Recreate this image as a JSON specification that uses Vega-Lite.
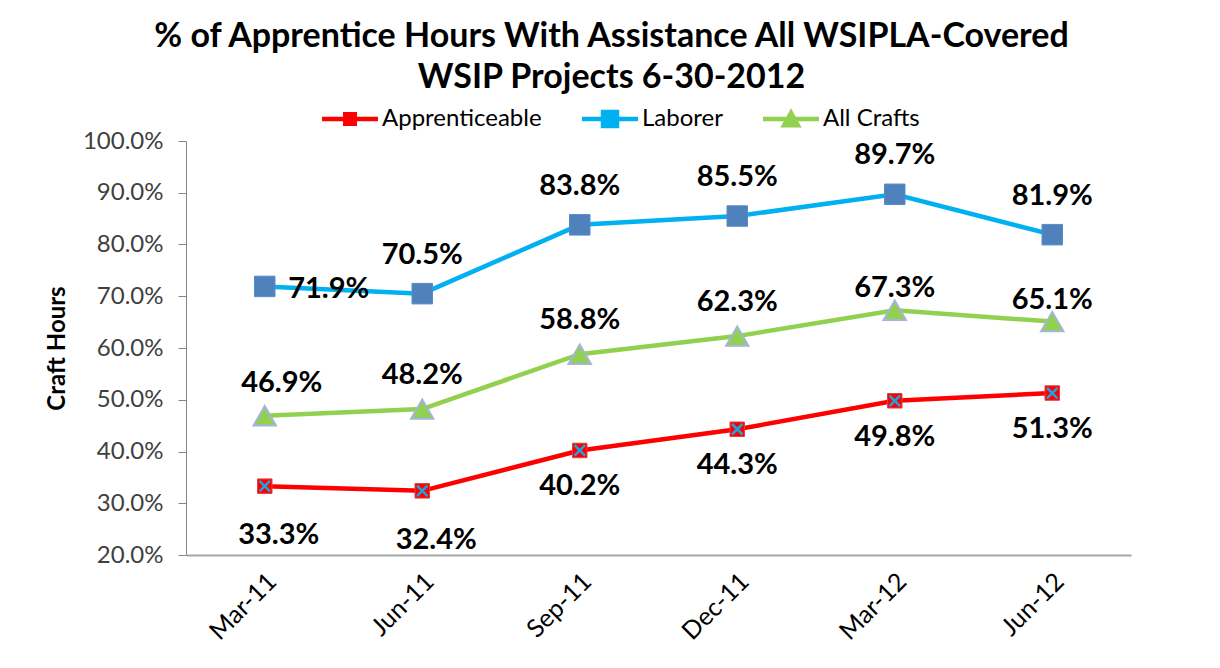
{
  "$schema": "https://vega.github.io/schema/vega-lite/v6.json",
  "width": 945,
  "height": 414,
  "autosize": {"type": "none"},
  "padding": {"left": 186, "top": 141, "right": 89, "bottom": 113},
  "background": "white",
  "view": {"stroke": null},
  "title": {
    "text": ["% of Apprentice Hours With Assistance All WSIPLA-Covered", "WSIP Projects 6-30-2012"],
    "font": "Lato",
    "fontSize": 34,
    "fontWeight": "bold",
    "color": "#000000",
    "anchor": "middle",
    "frame": "group",
    "dx": -47,
    "lineHeight": 41,
    "offset": -4
  },
  "data": {
    "values": [
      {"q": "Mar-11", "series": "Apprenticeable", "v": 0.333},
      {"q": "Jun-11", "series": "Apprenticeable", "v": 0.324},
      {"q": "Sep-11", "series": "Apprenticeable", "v": 0.402},
      {"q": "Dec-11", "series": "Apprenticeable", "v": 0.443},
      {"q": "Mar-12", "series": "Apprenticeable", "v": 0.498},
      {"q": "Jun-12", "series": "Apprenticeable", "v": 0.513},
      {"q": "Mar-11", "series": "Laborer", "v": 0.719},
      {"q": "Jun-11", "series": "Laborer", "v": 0.705},
      {"q": "Sep-11", "series": "Laborer", "v": 0.838},
      {"q": "Dec-11", "series": "Laborer", "v": 0.855},
      {"q": "Mar-12", "series": "Laborer", "v": 0.897},
      {"q": "Jun-12", "series": "Laborer", "v": 0.819},
      {"q": "Mar-11", "series": "All Crafts", "v": 0.469},
      {"q": "Jun-11", "series": "All Crafts", "v": 0.482},
      {"q": "Sep-11", "series": "All Crafts", "v": 0.588},
      {"q": "Dec-11", "series": "All Crafts", "v": 0.623},
      {"q": "Mar-12", "series": "All Crafts", "v": 0.673},
      {"q": "Jun-12", "series": "All Crafts", "v": 0.651}
    ]
  },
  "encoding": {
    "x": {
      "field": "q",
      "type": "ordinal",
      "sort": ["Mar-11", "Jun-11", "Sep-11", "Dec-11", "Mar-12", "Jun-12"],
      "scale": {"type": "point", "padding": 0.5},
      "axis": {
        "title": null,
        "labelAngle": -45,
        "labelAlign": "right",
        "labelBaseline": "middle",
        "labelFont": "Lato",
        "labelFontSize": 25,
        "labelColor": "#000000",
        "labelPadding": 22,
        "labelOffset": 7,
        "ticks": false,
        "domainColor": "#A6A6A6",
        "domainWidth": 2,
        "grid": false
      }
    },
    "y": {
      "field": "v",
      "type": "quantitative",
      "scale": {"domain": [0.2, 1.0], "nice": false, "zero": false},
      "axis": {
        "title": "Craft Hours",
        "titleFont": "Lato",
        "titleFontSize": 24,
        "titleFontWeight": "bold",
        "titleColor": "#000000",
        "titlePadding": 13,
        "values": [0.2, 0.3, 0.4, 0.5, 0.6, 0.7, 0.8, 0.9, 1.0],
        "format": ".1%",
        "labelFont": "Lato",
        "labelFontSize": 24,
        "labelColor": "#404040",
        "labelPadding": 15,
        "tickSize": 8,
        "tickColor": "#868686",
        "domainColor": "#868686",
        "grid": false
      }
    }
  },
  "layer": [
    {
      "transform": [{"filter": "datum.series === 'Apprenticeable'"}],
      "mark": {"type": "line", "color": "#FF0000", "strokeWidth": 4.5}
    },
    {
      "transform": [{"filter": "datum.series === 'Laborer'"}],
      "mark": {"type": "line", "color": "#00B0F0", "strokeWidth": 4.5}
    },
    {
      "transform": [{"filter": "datum.series === 'All Crafts'"}],
      "mark": {"type": "line", "color": "#92D050", "strokeWidth": 4.5}
    },
    {
      "transform": [{"filter": "datum.series === 'Apprenticeable'"}],
      "mark": {"type": "point", "shape": "square", "filled": true, "fill": "#FF0000", "stroke": "#E04040", "strokeWidth": 1, "size": 210, "opacity": 1}
    },
    {
      "transform": [{"filter": "datum.series === 'Apprenticeable'"}],
      "mark": {"type": "point", "shape": "M-1,-1L1,1M-1,1L1,-1", "filled": false, "stroke": "#1FA3E0", "strokeWidth": 2.5, "size": 110, "opacity": 1}
    },
    {
      "transform": [{"filter": "datum.series === 'Laborer'"}],
      "mark": {"type": "point", "shape": "square", "filled": true, "fill": "#4F81BD", "stroke": "#5A8AC6", "strokeWidth": 1, "size": 420, "opacity": 1}
    },
    {
      "transform": [{"filter": "datum.series === 'All Crafts'"}],
      "mark": {"type": "point", "shape": "triangle-up", "filled": true, "fill": "#92D050", "stroke": "#A5B5D9", "strokeWidth": 2, "size": 500, "opacity": 1}
    },
    {
      "transform": [{"filter": "datum.series === 'Laborer' && datum.q !== 'Mar-11'"}],
      "mark": {"type": "text", "font": "Lato", "fontSize": 29, "fontWeight": "bold", "color": "#000000", "dy": -39},
      "encoding": {"text": {"field": "v", "type": "quantitative", "format": ".1%"}}
    },
    {
      "transform": [{"filter": "datum.series === 'Laborer' && datum.q === 'Mar-11'"}],
      "mark": {"type": "text", "font": "Lato", "fontSize": 29, "fontWeight": "bold", "color": "#000000", "dx": 64, "dy": 3},
      "encoding": {"text": {"field": "v", "type": "quantitative", "format": ".1%"}}
    },
    {
      "transform": [{"filter": "datum.series === 'All Crafts' && datum.q === 'Mar-11'"}],
      "mark": {"type": "text", "font": "Lato", "fontSize": 29, "fontWeight": "bold", "color": "#000000", "dx": 17, "dy": -33},
      "encoding": {"text": {"field": "v", "type": "quantitative", "format": ".1%"}}
    },
    {
      "transform": [{"filter": "datum.series === 'All Crafts' && (datum.q === 'Jun-11' || datum.q === 'Sep-11' || datum.q === 'Dec-11')"}],
      "mark": {"type": "text", "font": "Lato", "fontSize": 29, "fontWeight": "bold", "color": "#000000", "dy": -34},
      "encoding": {"text": {"field": "v", "type": "quantitative", "format": ".1%"}}
    },
    {
      "transform": [{"filter": "datum.series === 'All Crafts' && (datum.q === 'Mar-12' || datum.q === 'Jun-12')"}],
      "mark": {"type": "text", "font": "Lato", "fontSize": 29, "fontWeight": "bold", "color": "#000000", "dy": -22},
      "encoding": {"text": {"field": "v", "type": "quantitative", "format": ".1%"}}
    },
    {
      "transform": [{"filter": "datum.series === 'Apprenticeable' && (datum.q === 'Mar-11' || datum.q === 'Jun-11')"}],
      "mark": {"type": "text", "font": "Lato", "fontSize": 29, "fontWeight": "bold", "color": "#000000", "dx": 14, "dy": 49},
      "encoding": {"text": {"field": "v", "type": "quantitative", "format": ".1%"}}
    },
    {
      "transform": [{"filter": "datum.series === 'Apprenticeable' && datum.q !== 'Mar-11' && datum.q !== 'Jun-11'"}],
      "mark": {"type": "text", "font": "Lato", "fontSize": 29, "fontWeight": "bold", "color": "#000000", "dy": 36},
      "encoding": {"text": {"field": "v", "type": "quantitative", "format": ".1%"}}
    },
    {
      "mark": {"type": "point", "filled": true, "opacity": 0},
      "encoding": {
        "color": {
          "field": "series",
          "type": "nominal",
          "scale": {"domain": ["Apprenticeable", "Laborer", "All Crafts"], "range": ["#FF0000", "#00B0F0", "#92D050"]},
          "legend": {
            "title": null,
            "orient": "none",
            "direction": "horizontal",
            "legendX": 136,
            "legendY": -50,
            "symbolSize": 3136,
            "symbolOpacity": 1,
            "symbolStrokeWidth": 0,
            "labelFont": "Lato",
            "labelFontSize": 24,
            "labelColor": "#000000",
            "labelOffset": 4,
            "columnPadding": 40
          }
        },
        "shape": {
          "field": "series",
          "type": "nominal",
          "scale": {
            "domain": ["Apprenticeable", "Laborer", "All Crafts"],
            "range": [
              "M-1,-0.08H1V0.08H-1Z M-0.25,-0.25H0.25V0.25H-0.25Z",
              "M-1,-0.08H1V0.08H-1Z M-0.33,-0.33H0.33V0.33H-0.33Z",
              "M-1,-0.08H1V0.08H-1Z M0,-0.38L0.38,0.3H-0.38Z"
            ]
          },
          "legend": {
            "title": null,
            "orient": "none",
            "direction": "horizontal",
            "legendX": 136,
            "legendY": -50,
            "symbolSize": 3136,
            "symbolOpacity": 1,
            "symbolStrokeWidth": 0,
            "labelFont": "Lato",
            "labelFontSize": 24,
            "labelColor": "#000000",
            "labelOffset": 4,
            "columnPadding": 40
          }
        }
      }
    }
  ]
}
